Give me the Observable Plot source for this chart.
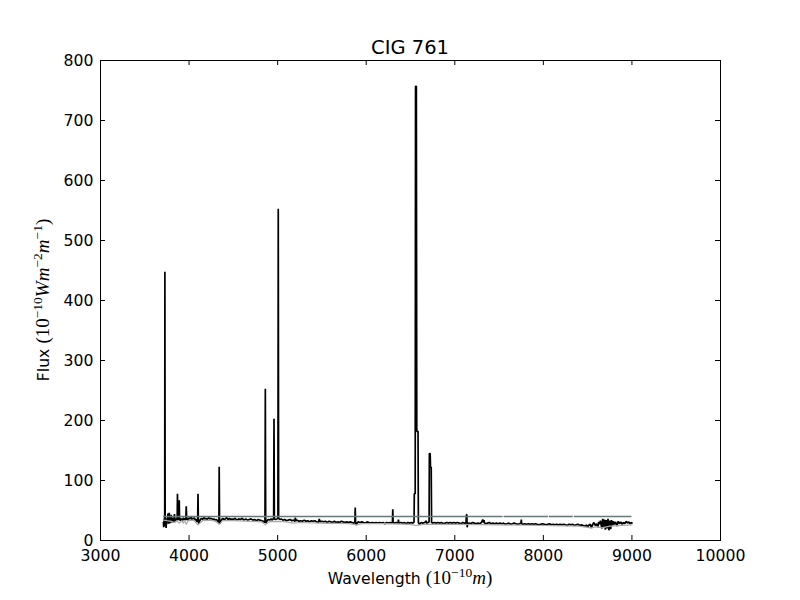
<!DOCTYPE html>
<html><head><meta charset="utf-8">
<script src="https://cdn.jsdelivr.net/npm/d3@7"></script>
<script src="https://cdn.jsdelivr.net/npm/@observablehq/plot@0.6"></script>
<style>html,body{margin:0;padding:0;background:#fff}</style>
</head><body><div id="chart"></div>
<script>
// Observed spectrum: [wavelength (Å), flux]
const observed = [
[3710,30],[3714,22],[3718,36],[3722,26],[3725,40],[3727,448],[3730,40],[3733,24],[3737,34],[3741,21],[3745,33],[3749,27],[3753,38],[3757,30],[3761,45],[3764,31],[3768,36],[3772,28],[3776,46],[3780,33],[3785,29],[3790,37],[3795,32],[3798,43],[3802,33],[3808,30],[3814,38],[3820,34],[3826,31],[3831,36],[3835,44],[3839,34],[3845,31],[3850,37],[3856,33],[3862,35],[3866,38],[3869,78],[3872,40],[3876,34],[3880,36],[3886,40],[3889,67],[3892,38],[3898,33],[3905,37],[3912,34],[3920,36],[3928,33],[3935,38],[3942,35],[3950,37],[3958,34],[3964,38],[3968,57],[3972,40],[3978,34],[3985,37],[3992,35],[4000,38],[4010,36],[4020,39],[4030,35],[4040,37],[4050,36],[4060,38],[4070,34],[4080,35],[4090,31],[4097,36],[4101,78],[4105,33],[4110,28],[4118,32],[4128,35],[4140,37],[4152,35],[4165,38],[4178,36],[4190,37],[4205,35],[4220,38],[4235,36],[4250,37],[4265,35],[4280,36],[4295,34],[4310,35],[4325,32],[4333,30],[4337,35],[4340,123],[4344,33],[4348,28],[4356,32],[4368,35],[4380,37],[4395,35],[4410,36],[4425,38],[4440,35],[4455,37],[4470,35],[4485,36],[4500,35],[4520,37],[4540,34],[4560,36],[4580,35],[4600,37],[4620,34],[4640,36],[4660,34],[4680,35],[4700,36],[4720,34],[4740,35],[4760,33],[4780,35],[4800,34],[4820,33],[4840,32],[4852,30],[4857,33],[4861,253],[4865,32],[4870,29],[4880,33],[4895,35],[4910,34],[4925,36],[4940,34],[4955,37],[4959,203],[4963,36],[4975,35],[4990,36],[5003,37],[5007,553],[5011,37],[5025,35],[5040,36],[5060,34],[5080,35],[5100,33],[5120,34],[5140,35],[5160,33],[5180,34],[5195,32],[5200,38],[5205,33],[5220,34],[5240,32],[5260,33],[5280,32],[5300,34],[5320,32],[5340,33],[5360,31],[5380,33],[5400,32],[5420,33],[5440,31],[5460,30],[5470,36],[5480,31],[5500,32],[5520,31],[5540,32],[5560,30],[5580,32],[5600,31],[5620,30],[5640,32],[5660,30],[5680,31],[5700,30],[5720,32],[5740,31],[5760,30],[5780,31],[5800,30],[5820,31],[5840,30],[5860,29],[5872,31],[5876,55],[5880,30],[5888,26],[5896,29],[5910,31],[5930,30],[5950,31],[5970,30],[5990,29],[6010,31],[6030,30],[6050,29],[6070,30],[6090,29],[6110,30],[6130,29],[6150,30],[6170,29],[6190,30],[6210,28],[6230,30],[6250,29],[6270,30],[6290,29],[6296,31],[6300,52],[6304,30],[6320,29],[6340,30],[6360,29],[6364,35],[6368,29],[6390,30],[6410,29],[6430,30],[6450,28],[6470,30],[6490,29],[6510,30],[6530,29],[6540,31],[6543,78],[6553,78],[6557,757],[6566,757],[6571,182],[6585,182],[6589,30],[6600,27],[6620,30],[6640,29],[6660,30],[6678,33],[6680,29],[6700,30],[6710,31],[6713,145],[6722,145],[6726,122],[6734,122],[6738,30],[6750,29],[6770,30],[6790,29],[6810,30],[6830,29],[6850,30],[6870,28],[6890,29],[6910,30],[6930,29],[6950,30],[6970,29],[6990,30],[7010,29],[7030,30],[7050,29],[7070,28],[7090,30],[7110,29],[7125,27],[7132,43],[7136,43],[7140,22],[7145,28],[7160,29],[7180,28],[7200,30],[7220,29],[7240,28],[7260,29],[7280,28],[7300,30],[7316,35],[7322,30],[7330,34],[7336,29],[7350,28],[7370,29],[7390,30],[7410,28],[7430,29],[7450,28],[7470,29],[7490,28],[7510,29],[7530,28],[7550,29],[7570,27],[7590,28],[7610,29],[7630,27],[7650,28],[7670,29],[7690,28],[7710,27],[7730,28],[7748,29],[7751,35],[7755,28],[7770,27],[7790,28],[7810,27],[7830,28],[7850,27],[7870,28],[7890,27],[7910,28],[7930,27],[7950,26],[7970,27],[7990,28],[8010,27],[8030,26],[8050,27],[8070,28],[8090,26],[8110,27],[8130,26],[8150,27],[8170,26],[8190,27],[8210,26],[8230,27],[8250,26],[8270,25],[8290,27],[8310,26],[8330,27],[8350,25],[8370,26],[8390,27],[8410,25],[8430,26],[8450,25],[8470,24],[8490,26],[8498,22],[8510,25],[8530,27],[8542,21],[8555,26],[8570,30],[8585,25],[8600,28],[8615,22],[8625,31],[8635,27],[8645,33],[8655,24],[8662,20],[8670,36],[8680,23],[8690,35],[8700,18],[8710,34],[8720,20],[8730,36],[8740,17],[8750,33],[8760,19],[8770,34],[8780,25],[8790,32],[8800,27],[8815,31],[8830,24],[8845,32],[8860,28],[8875,31],[8890,27],[8905,30],[8920,28],[8935,32],[8950,29],[8965,31],[8980,28],[8995,30],[9000,29]
];
// Model (stellar continuum) spectrum
const model = [
[3710,34],[3750,33],[3800,32],[3835,30],[3860,33],[3889,29],[3920,33],[3933,29],[3950,33],[3968,27],[3990,33],[4050,34],[4101,26],[4150,33],[4250,34],[4300,32],[4340,27],[4380,33],[4500,33],[4700,32],[4820,31],[4861,26],[4900,31],[5000,32],[5100,31],[5175,29],[5250,30],[5500,29],[5800,28],[5893,26],[5950,28],[6200,28],[6500,27],[6563,25],[6650,27],[7000,27],[7500,26],[8000,25],[8400,24],[8498,22],[8542,21],[8600,23],[8662,21],[8750,24],[9000,26]
];
// Constant reference level and its drawn segments
const levelFlux = 40;
const levelSegments = [[3710,7545],[7556,8058],[8068,8338],[8350,9000]];
const xTicks = [3000,4000,5000,6000,7000,8000,9000,10000];
const yTicks = [0,100,200,300,400,500,600,700,800];
const titleText = "CIG 761";

const W = 800, H = 600, mL = 100, mR = 80, mT = 60, mB = 60;
const frameW = W - mL - mR, frameH = H - mT - mB, tick = 5;
const font = "DejaVu Sans, Bitstream Vera Sans, sans-serif";

const chart = Plot.plot({
  width: W, height: H,
  marginLeft: mL, marginRight: mR, marginTop: mT, marginBottom: mB,
  style: {fontFamily: font, fontSize: "15.7px", color: "#000", background: "#fff"},
  x: {domain: [3000, 10000], ticks: xTicks},
  y: {domain: [0, 800], ticks: yTicks},
  marks: [
    Plot.line(observed, {x: d => d[0], y: d => d[1], stroke: "#000", strokeWidth: 1.7, strokeLinejoin: "miter"}),
    Plot.line(model, {x: d => d[0], y: d => d[1], stroke: "#a8a8a8", strokeWidth: 1.2}),
    Plot.ruleY(levelSegments, {y: () => levelFlux, x1: d => d[0], x2: d => d[1], stroke: "#687878", strokeWidth: 1.6}),
    Plot.frame({stroke: "#000", strokeWidth: 1}),
    Plot.ruleX(xTicks, {x: d => d, insetTop: frameH - tick, stroke: "#000"}),
    Plot.ruleX(xTicks, {x: d => d, insetBottom: frameH - tick, stroke: "#000"}),
    Plot.ruleY(yTicks, {y: d => d, insetRight: frameW - tick, stroke: "#000"}),
    Plot.ruleY(yTicks, {y: d => d, insetLeft: frameW - tick, stroke: "#000"}),
    Plot.axisX({ticks: xTicks, tickSize: 0, tickPadding: 9, tickFormat: d => String(d), label: null, fontSize: "15.7px"}),
    Plot.axisY({ticks: yTicks, tickSize: 0, tickPadding: 7, tickFormat: d => String(d), label: null, fontSize: "15.7px"})
  ]
});
document.getElementById("chart").appendChild(chart);

const svg = d3.select(chart);
svg.append("text").attr("x", mL + frameW / 2).attr("y", 54).attr("text-anchor", "middle")
  .attr("font-family", font).attr("font-size", "19.5px").attr("fill", "#000").text(titleText);

const serif = "Liberation Serif, DejaVu Serif, serif";
function mathLabel(sel, parts) {
  for (const p of parts) {
    const t = sel.append("tspan").text(p.t);
    if (p.serif) t.attr("font-family", serif).attr("font-size", "19px");
    if (p.it) t.attr("font-style", "italic");
    if (p.sup) t.attr("font-size", "13.5px").attr("dy", "-7");
    if (p.down) t.attr("dy", "7");
  }
}
const xl = svg.append("text").attr("x", mL + frameW / 2).attr("y", 584).attr("text-anchor", "middle")
  .attr("font-family", font).attr("font-size", "15.7px").attr("fill", "#000");
mathLabel(xl, [
  {t: "Wavelength "}, {t: "(10", serif: true}, {t: "\u221210", serif: true, sup: true},
  {t: "m", serif: true, it: true, down: true}, {t: ")", serif: true}
]);
const yl = svg.append("text").attr("transform", `translate(49,${mT + frameH / 2}) rotate(-90)`).attr("text-anchor", "middle")
  .attr("font-family", font).attr("font-size", "15.7px").attr("fill", "#000");
mathLabel(yl, [
  {t: "Flux "}, {t: "(10", serif: true}, {t: "\u221210", serif: true, sup: true},
  {t: "Wm", serif: true, it: true, down: true}, {t: "\u22122", serif: true, sup: true},
  {t: "m", serif: true, it: true, down: true}, {t: "\u22121", serif: true, sup: true},
  {t: ")", serif: true, down: true}
]);
</script></body></html>
